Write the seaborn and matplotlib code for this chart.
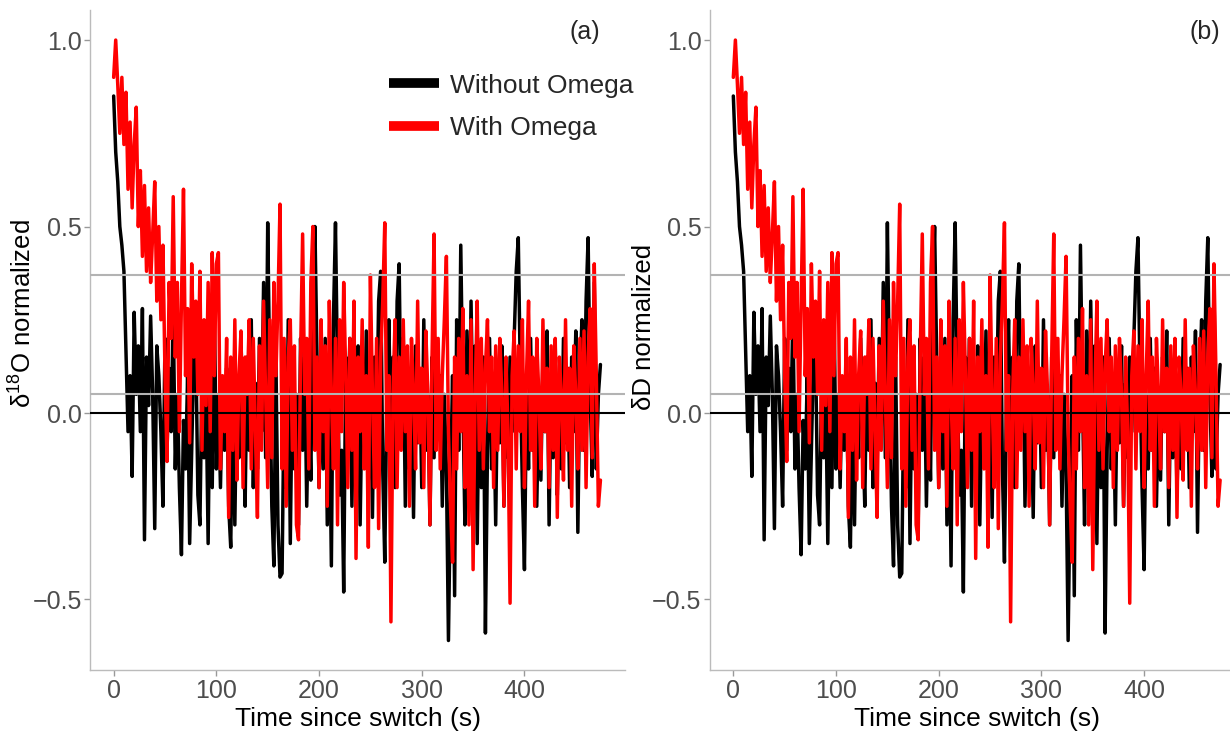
import numpy as np
import pandas as pd
import matplotlib
matplotlib.use("Agg")
import matplotlib.pyplot as plt
import seaborn as sns

step_s = 2
without_omega = [
    0.85, 0.70, 0.62, 0.50, 0.45, 0.38, 0.17, -0.05, 0.10, -0.17,
    0.27, 0.05, 0.18, -0.05, 0.28, -0.34, 0.15, 0.02, 0.26, 0.05,
    -0.31, 0.18, 0.10, -0.05, -0.25, 0.20, -0.10, 0.12, -0.05, 0.28,
    -0.15, 0.05, -0.20, -0.38, -0.02, -0.15, 0.10, -0.35, -0.10, 0.15,
    0.18, -0.22, -0.30, 0.10, -0.12, 0.05, -0.35, 0.15, -0.20, 0.30,
    -0.15, 0.05, -0.20, 0.08, -0.10, 0.12, -0.25, -0.36, 0.05, -0.30,
    0.10, -0.12, 0.20, -0.05, -0.25, 0.15, -0.10, 0.25, -0.20, 0.08,
    -0.15, 0.20, -0.05, 0.35, -0.12, 0.51, 0.10, -0.25, -0.41, 0.15,
    -0.30, -0.44, -0.43, 0.05, -0.20, 0.25, -0.35, 0.10, -0.15, 0.05,
    -0.30, 0.20, -0.10, 0.15, -0.25, 0.05, -0.18, 0.30, 0.50, 0.15,
    -0.20, 0.10, -0.15, 0.20, -0.30, 0.05, -0.41, 0.25, 0.51, 0.10,
    -0.22, -0.10, -0.48, 0.15, -0.05, 0.20, -0.25, 0.08, -0.12, 0.18,
    -0.30, 0.05, -0.10, 0.22, -0.18, 0.10, -0.28, 0.15, -0.05, 0.30,
    0.38, -0.15, -0.40, 0.05, 0.25, -0.10, 0.15, -0.20, 0.30, 0.40,
    -0.05, 0.20, -0.25, 0.10, -0.15, 0.05, -0.28, 0.18, -0.08, 0.12,
    -0.20, 0.25, -0.10, 0.05, -0.30, 0.15, -0.12, 0.20, -0.05, 0.10,
    -0.25, 0.05, -0.15, -0.61, -0.20, 0.10, -0.49, 0.25, -0.10, 0.45,
    0.05, -0.30, 0.22, -0.15, 0.30, -0.05, 0.18, -0.35, 0.10, -0.20,
    0.15, -0.59, -0.10, 0.20, -0.15, 0.05, -0.30, 0.12, -0.08, 0.18,
    -0.25, 0.08, -0.12, 0.15, -0.05, 0.20, 0.38, 0.47, 0.10, -0.20,
    -0.42, 0.05, -0.15, 0.20, -0.10, 0.12, -0.25, 0.05, -0.18, 0.15,
    -0.05, 0.22, -0.30, 0.08, -0.12, 0.18, -0.22, 0.05, -0.15, 0.20,
    -0.08, 0.12, -0.20, 0.15, -0.05, 0.22, -0.32, 0.10, 0.25, -0.10,
    0.30, 0.47, 0.05, -0.17, 0.35, -0.15, 0.05, 0.13,
]
with_omega = [
    0.90, 1.00, 0.88, 0.75, 0.90, 0.72, 0.86, 0.60, 0.78, 0.55,
    0.72, 0.82, 0.50, 0.65, 0.42, 0.61, 0.38, 0.55, 0.35, 0.48,
    0.62, 0.30, 0.50, 0.25, 0.45, 0.10, -0.13, 0.35, 0.20, 0.58,
    0.15, 0.35, -0.05, 0.30, 0.60, 0.10, 0.28, -0.08, 0.40, 0.15,
    0.30, 0.05, 0.38, -0.10, 0.25, 0.02, 0.35, -0.05, 0.43, 0.10,
    0.40, 0.43, -0.15, 0.10, -0.05, 0.20, -0.28, 0.15, -0.10, 0.25,
    -0.18, 0.10, 0.22, -0.20, 0.15, 0.05, 0.25, -0.15, 0.20, -0.05,
    -0.28, 0.18, -0.10, 0.30, 0.05, -0.20, 0.25, -0.12, 0.35, 0.10,
    0.30, 0.56, -0.15, 0.20, -0.25, 0.15, 0.25, -0.10, 0.18, -0.30,
    -0.34, 0.15, 0.48, 0.05, 0.20, -0.15, 0.35, 0.50, -0.10, 0.15,
    -0.20, 0.25, -0.05, 0.18, -0.25, 0.30, 0.05, -0.15, 0.20, -0.30,
    0.25, -0.05, 0.35, 0.10, -0.20, 0.20, -0.10, 0.30, -0.39, 0.15,
    -0.05, 0.25, -0.15, 0.10, -0.36, 0.37, 0.05, -0.20, 0.20, -0.31,
    0.15, 0.30, 0.51, -0.10, 0.10, -0.56, 0.05, 0.25, -0.20, 0.15,
    -0.10, 0.25, -0.05, 0.18, -0.25, 0.20, 0.05, -0.15, 0.30, -0.08,
    0.12, -0.20, 0.22, 0.05, -0.30, 0.15, 0.48, -0.10, 0.20, -0.15,
    0.10, 0.25, 0.42, -0.05, -0.25, -0.40, 0.15, -0.15, 0.20, -0.05,
    0.28, -0.20, 0.10, -0.30, 0.25, -0.42, 0.05, 0.30, -0.10, 0.20,
    -0.15, 0.12, 0.25, -0.05, 0.15, -0.20, 0.18, -0.10, 0.20, 0.05,
    -0.25, 0.15, -0.05, -0.51, 0.10, 0.22, -0.15, 0.18, -0.05, 0.25,
    -0.20, 0.10, 0.30, -0.10, 0.15, -0.25, 0.20, 0.05, -0.15, 0.25,
    -0.05, 0.12, -0.20, 0.18, -0.10, 0.20, -0.28, 0.15, 0.05, -0.18,
    0.25, -0.10, 0.12, -0.25, 0.18, 0.05, -0.15, 0.20, -0.10, 0.22,
    -0.20, 0.15, 0.28, -0.12, 0.40, 0.10, -0.25, -0.18,
]
series_names = ["Without Omega", "With Omega"]
series_colors = ["black", "red"]
panel_ylabels = [r"δ$^{18}$O normalized", "δD normalized"]
panel_label_y = [0.54, 0.52]
panel_tags = ["(a)", "(b)"]
ref_lines = [0.05, 0.37]
x_ticks = [0, 100, 200, 300, 400]
y_ticks = [-0.5, 0.0, 0.5, 1.0]
y_tick_labels = ["−0.5", "0.0", "0.5", "1.0"]

n = min(len(without_omega), len(with_omega))
time = np.arange(n) * step_s
df = pd.concat([
    pd.DataFrame({"time": time, "value": without_omega[:n], "series": series_names[0]}),
    pd.DataFrame({"time": time, "value": with_omega[:n], "series": series_names[1]}),
])

sns.set_theme(style="white")
plt.rcParams["font.family"] = ["Liberation Sans", "DejaVu Sans"]
plt.rcParams["mathtext.fontset"] = "custom"
plt.rcParams["mathtext.rm"] = "Liberation Sans"
plt.rcParams["mathtext.it"] = "Liberation Sans:italic"
plt.rcParams["mathtext.bf"] = "Liberation Sans:bold"
plt.rcParams["mathtext.default"] = "rm"

fig = plt.figure(figsize=(12.3, 7.31), dpi=100)
axes = [fig.add_axes([0.0732, 0.083, 0.435, 0.903]),
        fig.add_axes([0.577, 0.083, 0.435, 0.903])]
palette = dict(zip(series_names, series_colors))

for i, ax in enumerate(axes):
    sns.lineplot(data=df, x="time", y="value", hue="series", palette=palette,
                 hue_order=series_names, lw=2.5, ax=ax, legend=(i == 0),
                 estimator=None, zorder=3)
    ax.axhline(0, color="black", lw=1.5, zorder=4)
    for r in ref_lines:
        ax.axhline(r, color="#b3b3b3", lw=1.5, zorder=5)
    ax.set_xlim(-23, 498)
    ax.set_ylim(-0.69, 1.08)
    ax.set_xticks(x_ticks)
    ax.set_yticks(y_ticks)
    ax.set_yticklabels(y_tick_labels)
    ax.tick_params(axis="both", labelsize=18, labelcolor="#4d4d4d", color="#999999",
                   length=4, width=1, direction="out", left=True, bottom=True, pad=2)
    for s in ["top", "right"]:
        ax.spines[s].set_visible(False)
    for s in ["left", "bottom"]:
        ax.spines[s].set_color("#bbbbbb")
        ax.spines[s].set_linewidth(1.0)
    ax.set_xlabel("Time since switch (s)", fontsize=19, color="black", labelpad=3)
    ax.set_ylabel(panel_ylabels[i], fontsize=18.5, color="black", labelpad=-3)
    ax.yaxis.label.set_y(panel_label_y[i])
    ax.text(0.925, 0.985, panel_tags[i], transform=ax.transAxes, fontsize=18,
            ha="center", va="top")

leg_ax = axes[0]
handles, labels = leg_ax.get_legend_handles_labels()
leg = leg_ax.legend(handles, labels, loc="upper left", bbox_to_anchor=(0.515, 0.94),
                    frameon=False, fontsize=19, handlelength=1.9, handletextpad=0.4,
                    labelspacing=0.7)
for h in leg.get_lines():
    h.set_linewidth(7)
    h.set_solid_capstyle("butt")

fig.savefig("out.png", dpi=100, facecolor="white")
